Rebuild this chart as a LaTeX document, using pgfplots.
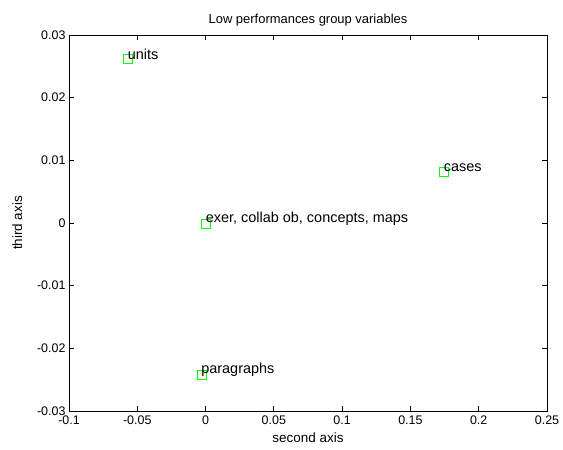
\documentclass[border=0pt]{standalone}
\usepackage{fontspec}
\setmainfont{Liberation Sans}
\usepackage{pgfplots}
\pgfplotsset{compat=1.18}
\definecolor{mgreen}{RGB}{0,255,0}
\begin{document}
\begin{tikzpicture}
\begin{axis}[
 name=ax,
 scale only axis,
 width=478bp, height=376bp,
 xmin=-0.1, xmax=0.25,
 ymin=-0.03, ymax=0.03,
 xtick={-0.1,-0.05,0,0.05,0.1,0.15,0.2,0.25},
 ytick={-0.03,-0.02,-0.01,0,0.01,0.02,0.03},
 scaled ticks=false,
 tick align=inside, tick pos=both,
 major tick length=5bp,
 axis line style={black, line width=0.75bp},
 tick style={black, line width=0.75bp},
 /pgf/number format/assume math mode=true,
 /pgf/number format/fixed,
 /pgf/number format/precision=3,
 every tick label/.append style={font=\fontsize{12.5}{14}\selectfont},
 xticklabel style={yshift=-1bp},
 title={Low performances group variables},
 title style={font=\fontsize{13}{15}\selectfont, yshift=-1bp},
 xlabel={second axis},
 ylabel={third axis},
 every axis label/.append style={font=\fontsize{13.5}{15}\selectfont},
 xlabel style={yshift=-2bp},
 ylabel style={yshift=8bp},
 clip=false,
]
\addplot[only marks, mark=square, mark size=4.5bp,
 mark options={draw=mgreen, line width=0.7bp},
 point meta=explicit symbolic,
 nodes near coords={\pgfplotspointmeta},
 nodes near coords align={anchor=west},
 every node near coord/.append style={font=\fontsize{14.5}{16}\selectfont,
   inner sep=0pt, xshift=-0.5bp, yshift=4.5bp, black}]
 table[meta=label] {
 x y label
 -0.0568 0.0262 units
 0.1746 0.0081 cases
 0.0003 -0.0001 {exer, collab ob, concepts, maps}
 -0.0030 -0.0242 paragraphs
 };
\end{axis}
\pgfresetboundingbox
\path ([xshift=-69bp,yshift=-39bp]ax.south west) rectangle ([xshift=16bp,yshift=35bp]ax.north east);
\end{tikzpicture}
\end{document}
